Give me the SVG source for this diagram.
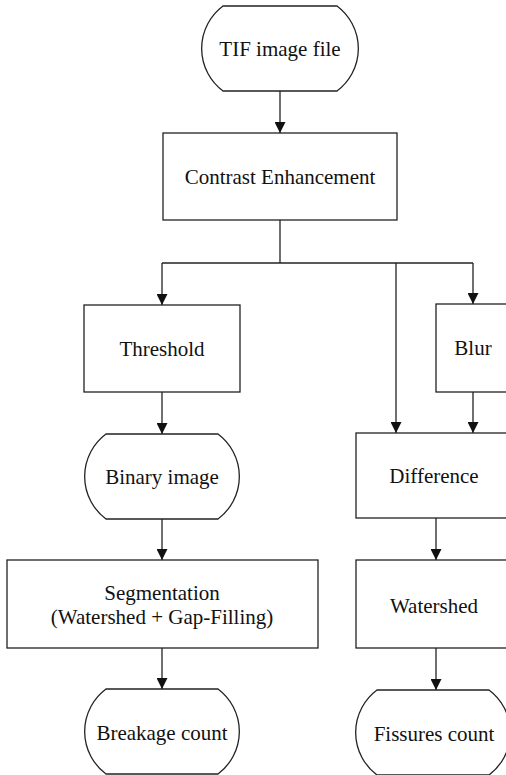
<svg xmlns="http://www.w3.org/2000/svg" width="506" height="775" viewBox="0 0 506 775">
<style>
.n{fill:#fff;stroke:#222;stroke-width:1.3}
.t{font-family:'Liberation Serif','DejaVu Serif',serif;font-size:21px;fill:#111;text-anchor:middle}
.c{fill:none;stroke:#222;stroke-width:1.3}
</style>
<defs>
<marker id="ah" markerUnits="userSpaceOnUse" markerWidth="11" markerHeight="11" refX="11" refY="5.5" orient="auto">
<path d="M0,0 L11,5.5 L0,11 Z" fill="#111"/>
</marker>
</defs>
<rect width="506" height="775" fill="#fff"/>
<g id="connectors">
<line class="c" x1="280" y1="91" x2="280" y2="133" marker-end="url(#ah)"/>
<polyline class="c" points="280,220 280,263"/>
<polyline class="c" points="162,263 473,263"/>
<line class="c" x1="162" y1="263" x2="162" y2="305" marker-end="url(#ah)"/>
<line class="c" x1="396" y1="263" x2="396" y2="433" marker-end="url(#ah)"/>
<line class="c" x1="473" y1="263" x2="473" y2="304" marker-end="url(#ah)"/>
<line class="c" x1="162" y1="392" x2="162" y2="434" marker-end="url(#ah)"/>
<line class="c" x1="473" y1="392" x2="473" y2="433" marker-end="url(#ah)"/>
<line class="c" x1="162" y1="519" x2="162" y2="560" marker-end="url(#ah)"/>
<line class="c" x1="436" y1="518" x2="436" y2="560" marker-end="url(#ah)"/>
<line class="c" x1="162" y1="648" x2="162" y2="689" marker-end="url(#ah)"/>
<line class="c" x1="436" y1="648" x2="436" y2="690" marker-end="url(#ah)"/>
</g>
<g font-family="Liberation Serif, DejaVu Serif, serif">
<g id="tif">
<path class="n" d="M223,6 L337,6 A53,53 0 0 1 337,91 L223,91 A53,53 0 0 1 223,6 Z"/>
<text class="t" x="280" y="55.5">TIF image file</text>
</g>
<g id="contrast">
<rect class="n" x="163" y="133" width="234" height="87"/>
<text class="t" x="280" y="184">Contrast Enhancement</text>
</g>
<g id="threshold">
<rect class="n" x="84" y="305" width="156" height="87"/>
<text class="t" x="162" y="356">Threshold</text>
</g>
<g id="blur">
<rect class="n" x="436" y="304" width="74" height="88"/>
<text class="t" x="473" y="355">Blur</text>
</g>
<g id="binary">
<path class="n" d="M106,434 L218,434 A53,53 0 0 1 218,519 L106,519 A53,53 0 0 1 106,434 Z"/>
<text class="t" x="162" y="484">Binary image</text>
</g>
<g id="difference">
<rect class="n" x="356" y="433" width="156" height="85"/>
<text class="t" x="434" y="483">Difference</text>
</g>
<g id="segmentation">
<rect class="n" x="7" y="560" width="311" height="88"/>
<text class="t" x="162" y="600">Segmentation</text>
<text class="t" x="162" y="624">(Watershed + Gap-Filling)</text>
</g>
<g id="watershed">
<rect class="n" x="356" y="560" width="156" height="88"/>
<text class="t" x="434" y="613">Watershed</text>
</g>
<g id="breakage">
<path class="n" d="M106,689 L218,689 A53,53 0 0 1 218,774 L106,774 A53,53 0 0 1 106,689 Z"/>
<text class="t" x="162" y="740">Breakage count</text>
</g>
<g id="fissures">
<path class="n" d="M377,690 L489,690 A53,53 0 0 1 489,775 L377,775 A53,53 0 0 1 377,690 Z"/>
<text class="t" x="434" y="741">Fissures count</text>
</g>
</g>
</svg>
